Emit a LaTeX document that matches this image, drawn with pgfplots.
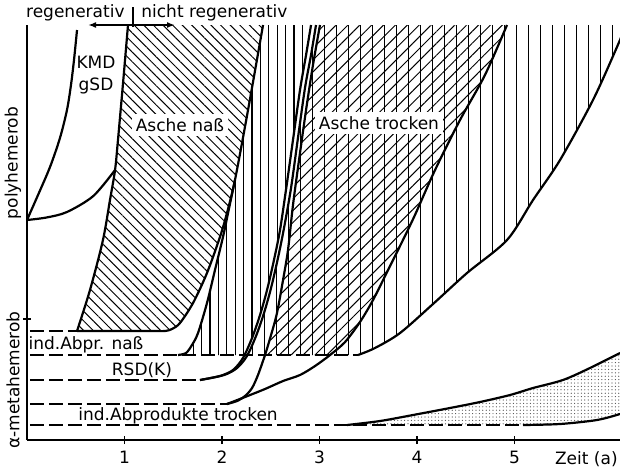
\documentclass[border=0pt]{standalone}
\usepackage{fontspec}
\setmainfont{DejaVu Sans}
\usepackage{pgfplots}
\pgfplotsset{compat=1.18}
\usepgfplotslibrary{fillbetween}
\usetikzlibrary{patterns.meta,arrows.meta}

\tikzset{
  lvl/.style={dash pattern=on 7pt off 2.5pt, line width=1pt},
  crv/.style={smooth, line width=1.1pt},
  edge/.style={smooth, draw=none},
  hatch/.style={draw=none, pattern color=black},
}

\begin{document}
\begin{tikzpicture}[font=\fontsize{8.5}{10}\selectfont]
\begin{axis}[
  at={(0,0)}, anchor=south west,
  x=48.75pt, y=0.5pt,
  xmin=0, xmax=6.082, ymin=0, ymax=415,
  axis x line*=bottom, axis y line*=left,
  axis line style={line width=0.8pt},
  xtick={1,2,3,4,5}, ytick={121}, yticklabels={},
  tick align=center, major tick length=4pt,
  tick style={black, line width=0.7pt},
  /pgf/number format/assume math mode=true,
  clip=false,
]

% edges of the hatched areas (above the level at 85)
\addplot[edge, name path=L] coordinates {(0.513,109)(0.646,150)(0.779,200)(0.851,240)(0.903,270)(0.933,300)(0.985,357)(1.036,415)};
\addplot[edge, name path=NB] coordinates {(0.513,109)(0.851,109)(1.262,109)(1.415,109)(1.487,111)(1.569,117)(1.703,137)(1.846,167)(1.979,203)(2.051,227)(2.133,260)(2.267,330)(2.421,415)};
\addplot[edge, name path=VL] coordinates {(1.549,85)(1.631,87)(1.692,95)(1.754,107)(1.846,137)(1.928,170)(2.010,203)(2.062,227)(2.133,260)(2.267,330)(2.421,415)};
\addplot[edge, name path=R1] coordinates {(2.228,85)(2.308,102)(2.390,125)(2.462,150)(2.533,180)(2.595,210)(2.656,250)(2.728,300)(2.800,350)(2.862,385)(2.913,415)};
\addplot[edge, name path=R2] coordinates {(2.260,85)(2.349,104)(2.431,127)(2.503,152)(2.574,182)(2.636,212)(2.708,252)(2.779,302)(2.851,352)(2.913,385)(2.964,415)};
\addplot[edge, name path=T1] coordinates {(2.441,85)(2.503,105)(2.564,127)(2.626,160)(2.677,190)(2.728,235)(2.790,280)(2.862,330)(2.933,375)(3.005,415)};
\addplot[edge, name path=T2] coordinates {(3.108,85)(3.262,98)(3.415,118)(3.549,140)(3.703,170)(3.856,200)(3.979,225)(4.185,270)(4.441,320)(4.697,365)(4.923,415)};
\addplot[edge, name path=VR] coordinates {(3.395,85)(3.569,92)(3.826,107)(4.164,136)(4.513,167)(4.923,200)(5.190,240)(5.467,280)(5.805,340)(6.051,393)(6.144,415)};
\addplot[edge, name path=DU] coordinates {(3.282,15)(3.621,19)(3.959,25)(4.338,32)(4.646,38)(4.954,45)(5.190,52)(5.497,60)(5.774,72)(6.082,87)};
\addplot[edge, name path=DB] coordinates {(3.282,15)(4.236,15)(5.087,15)(5.467,16)(5.846,20)(6.082,26)};

% hatchings
\addplot[hatch, pattern={Lines[angle=-45,distance=3.4pt,line width=0.5pt]}] fill between[of=L and NB];
\addplot[hatch, pattern={Lines[angle=90,distance=4.2pt,line width=0.55pt]}] fill between[of=VL and R1];
\addplot[hatch, pattern={Lines[angle=90,distance=6pt,line width=0.5pt]}] fill between[of=R2 and VR];
\addplot[hatch, pattern={Lines[angle=45,distance=4.2pt,line width=0.5pt]}] fill between[of=T1 and T2];
\addplot[hatch, pattern={Dots[distance=1.7pt,radius=0.3pt]}, pattern color=black!70] fill between[of=DU and DB];

% KMD / gSD
\addplot[crv] coordinates {(0,220)(0.113,245)(0.236,273)(0.338,302)(0.410,330)(0.451,355)(0.482,380)(0.513,410)};
\addplot[crv] coordinates {(0,220)(0.2,222.5)(0.41,228)(0.68,244)(0.903,270)};

% Asche nass
\addplot[crv] coordinates {(0.513,109)(0.646,150)(0.779,200)(0.851,240)(0.903,270)(0.933,300)(0.985,357)(1.036,415)};
\addplot[crv] coordinates {(0.513,109)(0.851,109)(1.262,109)(1.415,109)(1.487,111)(1.569,117)(1.703,137)(1.846,167)(1.979,203)(2.051,227)(2.133,260)(2.267,330)(2.421,415)};
\addplot[crv] coordinates {(1.549,85)(1.631,87)(1.692,95)(1.754,107)(1.846,137)(1.928,170)(2.010,203)(2.062,227)(2.133,260)};

% RSD(K)
\addplot[crv] coordinates {(1.774,60)(1.979,64)(2.113,70)(2.215,82)(2.308,102)(2.390,125)(2.462,150)(2.533,180)(2.595,210)(2.656,250)(2.728,300)(2.800,350)(2.862,385)(2.913,415)};
\addplot[crv] coordinates {(1.774,60)(2.021,65)(2.154,72)(2.256,84)(2.349,104)(2.431,127)(2.503,152)(2.574,182)(2.636,212)(2.708,252)(2.779,302)(2.851,352)(2.913,385)(2.964,415)};

% Asche trocken
\addplot[crv] coordinates {(2.051,36)(2.154,39)(2.236,44)(2.308,52)(2.369,65)(2.441,85)(2.503,105)(2.564,127)(2.626,160)(2.677,190)(2.728,235)(2.790,280)(2.862,330)(2.933,375)(3.005,415)};
\addplot[crv] coordinates {(2.051,36)(2.236,43)(2.441,51)(2.626,59)(2.800,65)(2.954,74)(3.108,85)(3.262,98)(3.415,118)(3.549,140)(3.703,170)(3.856,200)(3.979,225)(4.185,270)(4.441,320)(4.697,365)(4.923,415)};

% right edge of the vertical hatching
\addplot[crv] coordinates {(3.395,85)(3.569,92)(3.826,107)(4.164,136)(4.513,167)(4.923,200)(5.190,240)(5.467,280)(5.805,340)(6.051,393)(6.144,415)};

% ind. Abprodukte trocken
\addplot[crv] coordinates {(3.282,15)(3.621,19)(3.959,25)(4.338,32)(4.646,38)(4.954,45)(5.190,52)(5.497,60)(5.774,72)(6.082,87)};
\addplot[crv] coordinates {(5.087,15)(5.467,16)(5.846,20)(6.082,26)};

% dashed levels
\addplot[lvl] coordinates {(0.03,109)(0.513,109)};
\addplot[lvl] coordinates {(0.03,85)(3.395,85)};
\addplot[lvl] coordinates {(0.03,60)(1.774,60)};
\addplot[lvl] coordinates {(0.03,36)(2.051,36)};
\addplot[lvl] coordinates {(0.03,15)(5.087,15)};

% regenerativ | nicht regenerativ
\addplot[line width=0.8pt, {Latex[length=4pt,width=3pt]}-{Latex[length=4pt,width=3pt]}] coordinates {(0.626,415)(1.518,415)};
\addplot[line width=0.8pt] coordinates {(1.087,413)(1.087,433)};
\node[anchor=east, inner sep=0pt] at (1.005,427) {regenerativ};
\node[anchor=west, inner sep=0pt] at (1.169,427) {nicht regenerativ};

% labels
\node[align=center, inner sep=0pt] at (0.708,365) {KMD\\[1pt]gSD};
\node[fill=white, inner sep=2pt] at (1.569,315) {Asche naß};
\node[fill=white, inner sep=2pt] at (3.610,317) {Asche trocken};
\node[inner sep=0pt] at (0.605,95) {ind.Abpr. naß};
\node[inner sep=0pt] at (1.179,70) {RSD(K)};
\node[inner sep=0pt] at (1.549,24) {ind.Abprodukte trocken};
\node[anchor=east, inner sep=0pt] at (6.062,-19) {Zeit (a)};
\node[rotate=90, inner sep=0pt] at (-0.144,277) {polyhemerob};
\node[rotate=90, inner sep=0pt] at (-0.144,60) {α-metahemerob};
\end{axis}
\pgfresetboundingbox
\useasboundingbox (-13.5pt,-14pt) rectangle (296.5pt,220pt);
\end{tikzpicture}
\end{document}
